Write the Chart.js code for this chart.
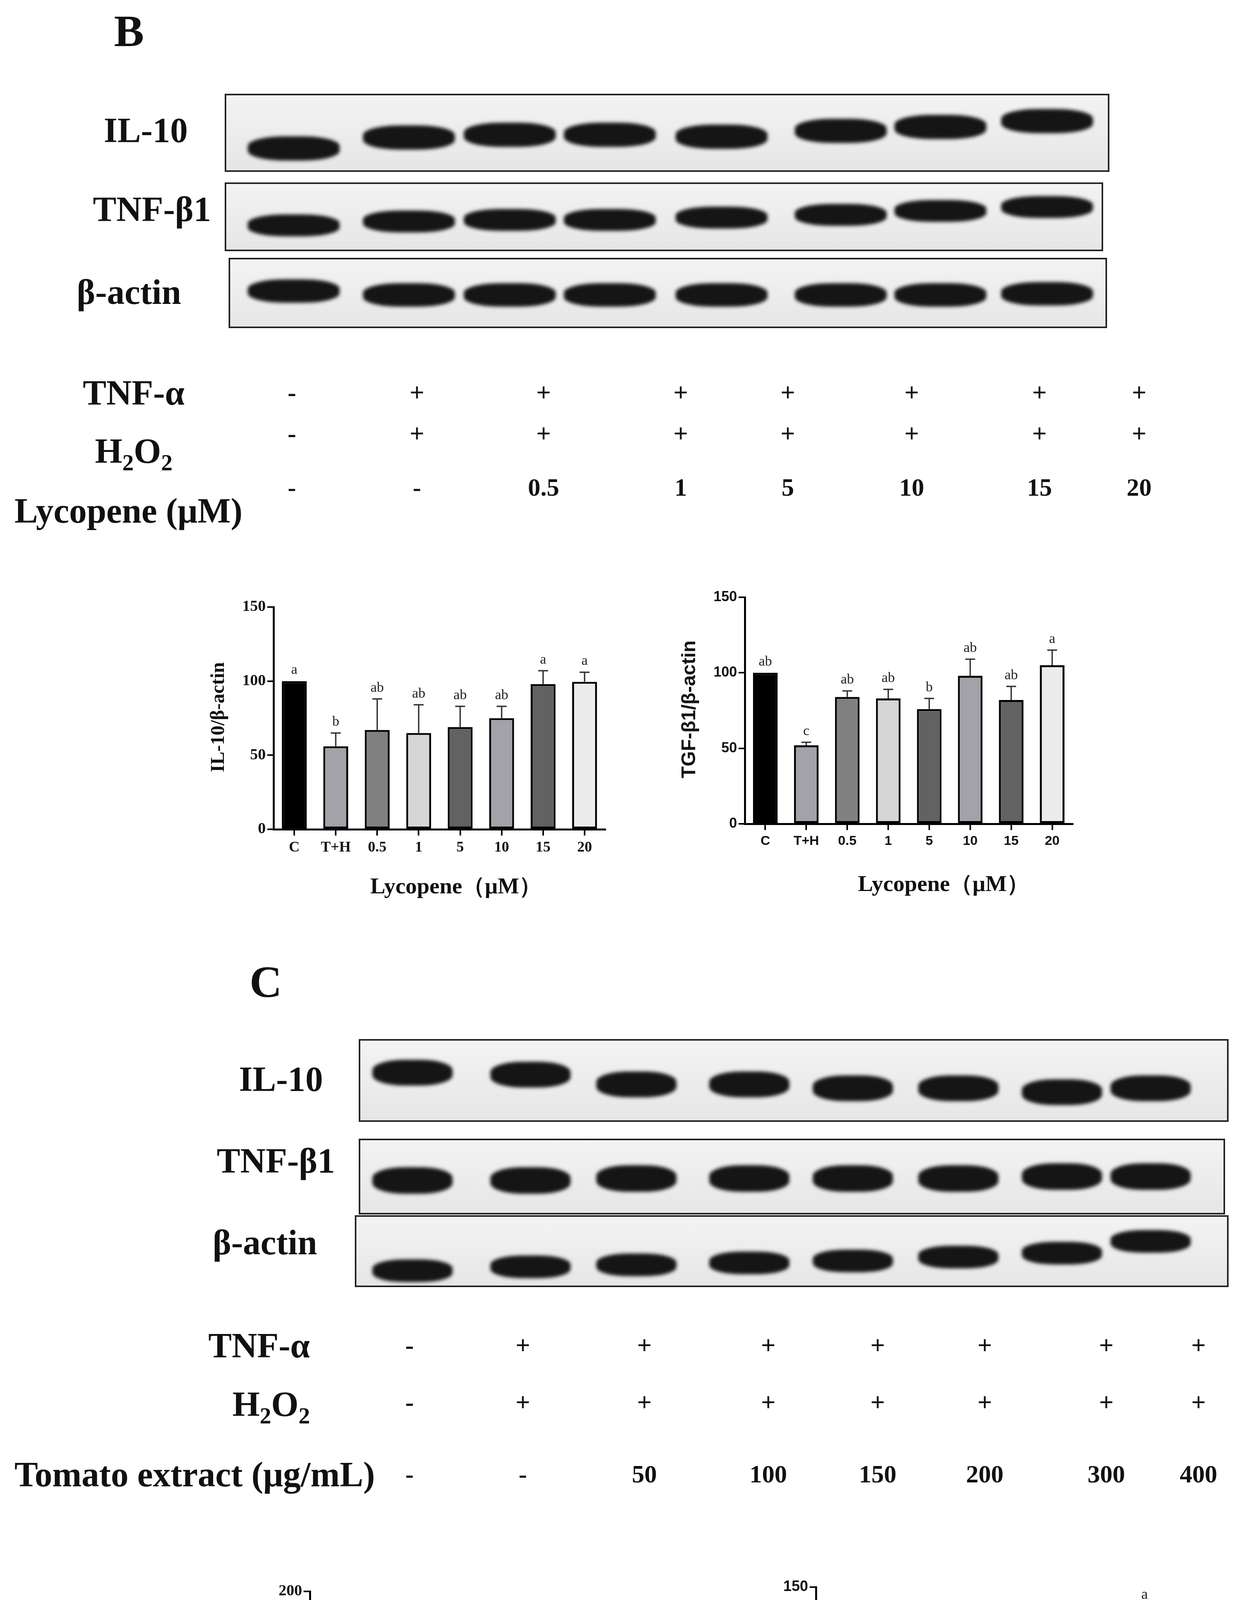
<!DOCTYPE html>
<html><head><meta charset="utf-8">
<script src="https://cdn.jsdelivr.net/npm/chart.js@4.4.0/dist/chart.umd.min.js"></script>
<style>
html,body{margin:0;padding:0;background:#fff;}
body{width:3186px;height:4899px;position:relative;overflow:hidden;font-family:"Liberation Serif","DejaVu Serif",serif;}
.t{position:absolute;white-space:nowrap;font-weight:bold;color:#111;}
.box{position:absolute;border:4px solid #222;background:linear-gradient(#f3f3f3,#e6e6e6);overflow:hidden;}
.band{position:absolute;background:#151515;border-radius:40%;filter:blur(5px);}
.cw{position:absolute;}
</style></head><body>
<script>
// ---------- DATA ----------
const catsB = ['C','T+H','0.5','1','5','10','15','20'];
const catsC = ['C','T+H','50','100','150','200','300','400'];
const il10B = [100,56,67,65,69,75,98,99.5];
const il10BErr = [0,9,21,19,14,8,9,6.5];
const il10BLet = ['a','b','ab','ab','ab','ab','a','a'];
const tgfB = [100,52,84,83,76,98,82,105];
const tgfBErr = [0,2,4,6,7,11,9,10];
const tgfBLet = ['ab','c','ab','ab','b','ab','ab','a'];
const il10C = [100,61,87,95,109,130,127,118];
const il10CErr = [0,4,2,8,13,18,6,16];
const il10CLet = ['bcd','e','de','cd','abcd','a','ab','abc'];
const tgfC = [100,78,89,89,91,101,105,128];
const tgfCErr = [0,2,3,5,0.5,11,3,10];
const tgfCLet = ['b','c','bc','bc','bc','b','b','a'];
const barColors = ['#000000','#a2a2a8','#808080','#d6d6d6','#626262','#a2a2a8','#626262','#ececec'];
const tnfB = ['-','+','+','+','+','+','+','+'];
const h2o2B = ['-','+','+','+','+','+','+','+'];
const lycB = ['-','-','0.5','1','5','10','15','20'];
const tnfC = ['-','+','+','+','+','+','+','+'];
const h2o2C = ['-','+','+','+','+','+','+','+'];
const tomC = ['-','-','50','100','150','200','300','400'];

// ---------- helpers ----------
function T(html,x,y,size,opt={}){
  const d=document.createElement('div');d.className='t';d.innerHTML=html;
  d.style.fontSize=size+'px';d.style.left=x+'px';d.style.top=y+'px';
  let tr = opt.left?'translate(0,-50%)':'translate(-50%,-50%)';
  if(opt.rot) tr+=' rotate(-90deg)';
  d.style.transform=tr;
  if(opt.family) d.style.fontFamily=opt.family;
  if(opt.color) d.style.color=opt.color;
  if(opt.normal) d.style.fontWeight='normal';
  document.body.appendChild(d);return d;
}
function blot(x,y,w,h,lanes,offs,bw,bh){
  const b=document.createElement('div');b.className='box';
  b.style.left=x+'px';b.style.top=y+'px';b.style.width=w+'px';b.style.height=h+'px';
  lanes.forEach((lx,i)=>{
    const d=document.createElement('div');d.className='band';
    d.style.left=(lx-x-bw/2)+'px';d.style.top=(h/2-bh/2+offs[i])+'px';
    d.style.width=bw+'px';d.style.height=bh+'px';b.appendChild(d);
  });
  document.body.appendChild(b);
}
const SUB='<sub style="font-size:0.65em">2</sub>';

// ---------- Section B ----------
T('B',330,80,115);
const lanesB=[747,1042,1300,1556,1842,2147,2402,2675];
blot(575,240,2256,192,lanesB,[40,12,5,5,10,-5,-15,-30],235,62);
blot(575,467,2240,168,lanesB,[22,12,8,8,2,-5,-15,-25],235,56);
blot(585,660,2240,172,lanesB,[-5,5,5,5,5,5,5,2],235,60);
T('IL-10',373,333,90);
T('TNF-β1',389,535,90);
T('β-actin',330,747,90);
const colB=[747,1067,1391,1742,2016,2333,2660,2915];
T('TNF-α',212,1005,90,{left:1});
T('H'+SUB+'O'+SUB,243,1160,90,{left:1});
T('Lycopene (μM)',37,1307,90,{left:1});
colB.forEach((x,i)=>{T(tnfB[i],x,1005,66);T(h2o2B[i],x,1110,66);T(lycB[i],x,1248,64);});

// ---------- Section C ----------
T('C',680,2514,115);
const lanesC=[1051,1353,1624,1913,2178,2448,2713,2940];
blot(918,2660,2218,204,lanesC,[-20,-15,10,10,20,20,30,20],205,66);
blot(918,2915,2209,186,lanesC,[10,10,5,5,5,5,0,0],205,68);
blot(908,3111,2228,176,lanesC,[50,40,35,30,25,15,5,-25],205,58);
T('IL-10',719,2762,90);
T('TNF-β1',706,2971,90);
T('β-actin',678,3180,90);
const colC=[1048,1338,1649,1966,2246,2520,2831,3067];
T('TNF-α',663,3444,90);
T('H'+SUB+'O'+SUB,694,3600,90);
T('Tomato extract (μg/mL)',37,3774,90,{left:1});
colC.forEach((x,i)=>{T(tnfC[i],x,3444,66);T(h2o2C[i],x,3590,66);T(tomC[i],x,3774,64);});

// ---------- charts ----------
const errPlugin={
  id:'err',
  afterDatasetsDraw(chart,args,opts){
    const ctx=chart.ctx, meta=chart.getDatasetMeta(0), ys=chart.scales.y;
    ctx.save();ctx.strokeStyle='#333';ctx.lineWidth=3.5;ctx.fillStyle='#222';
    ctx.font='normal '+opts.letSize+'px "Liberation Serif", serif';
    ctx.textAlign='center';ctx.textBaseline='bottom';
    meta.data.forEach((bar,i)=>{
      const v=opts.vals[i], e=opts.err[i];
      const yTop=ys.getPixelForValue(v+e), yv=ys.getPixelForValue(v);
      if(e>0){
        ctx.beginPath();ctx.moveTo(bar.x,yv);ctx.lineTo(bar.x,yTop);
        ctx.moveTo(bar.x-bar.width*0.2,yTop);ctx.lineTo(bar.x+bar.width*0.2,yTop);ctx.stroke();
      }
      ctx.fillText(opts.lets[i],bar.x,yTop-10);
    });
    ctx.restore();
  }
};
function mkChart(o){
  const c=document.createElement('div');c.className='cw';
  c.style.left=o.l+'px';c.style.top=o.t+'px';c.style.width=o.w+'px';c.style.height=o.h+'px';
  const cv=document.createElement('canvas');c.appendChild(cv);document.body.appendChild(c);
  new Chart(cv,{type:'bar',
    data:{labels:o.cats,datasets:[{data:o.vals,backgroundColor:barColors,borderColor:'#000',borderWidth:5,borderSkipped:false,barPercentage:0.6,categoryPercentage:1}]},
    options:{responsive:true,maintainAspectRatio:false,animation:false,devicePixelRatio:1,
      layout:{padding:{top:o.pt,right:o.pr,left:0,bottom:0}},
      plugins:{legend:{display:false},tooltip:{enabled:false},err:{vals:o.vals,err:o.err,lets:o.lets,letSize:o.letSize}},
      scales:{
        x:{afterFit(s){s.height=o.xh;},
           grid:{drawOnChartArea:false,offset:false,tickLength:16,tickColor:'#000',tickWidth:4,lineWidth:4},
           border:{color:'#000',width:5},
           ticks:{color:'#111',padding:8,font:{family:o.xfam,weight:'bold',size:o.xfs}}},
        y:{min:0,max:o.max,afterFit(s){s.width=o.yw;},
           afterBuildTicks(s){s.ticks=o.yticks.map(v=>({value:v}));},
           grid:{drawOnChartArea:false,tickLength:16,tickColor:'#000',tickWidth:4,lineWidth:4},
           border:{color:'#000',width:5},
           ticks:{color:'#111',padding:4,font:{family:o.yfam,weight:'bold',size:o.yfs}}}
      }},
    plugins:[errPlugin]});
}
const SERIF='"Liberation Serif", serif', SANS='"Liberation Sans", Arial, sans-serif';
mkChart({l:500,t:1480,w:1100,h:740,pt:74,pr:51,yw:200,xh:97,cats:catsB,vals:il10B,err:il10BErr,lets:il10BLet,max:150,yticks:[0,50,100,150],xfam:SERIF,yfam:SERIF,xfs:38,yfs:40,letSize:36});
T('IL-10/β-actin',556,1836,50,{rot:1});
T('Lycopene（μM）',1167,2268,58);
mkChart({l:1650,t:1460,w:1130,h:740,pt:69,pr:35,yw:256,xh:91,cats:catsB,vals:tgfB,err:tgfBErr,lets:tgfBLet,max:150,yticks:[0,50,100,150],xfam:SANS,yfam:SANS,xfs:34,yfs:36,letSize:36});
T('TGF-β1/β-actin',1762,1816,50,{rot:1,family:SANS});
T('Lycopene（μM）',2415,2262,58);
mkChart({l:550,t:4000,w:1150,h:780,pt:74,pr:30,yw:243,xh:100,cats:catsC,vals:il10C,err:il10CErr,lets:il10CLet,max:200,yticks:[0,50,100,150,200],xfam:SERIF,yfam:SERIF,xfs:40,yfs:40,letSize:38});
T('IL-10/β-actin',634,4380,42,{rot:1});
T('Tomato extract　（ μg/mL ）',1264,4840,48);
mkChart({l:1850,t:4000,w:1165,h:780,pt:63,pr:30,yw:238,xh:101,cats:catsC,vals:tgfC,err:tgfCErr,lets:tgfCLet,max:150,yticks:[0,50,100,150],xfam:SANS,yfam:SANS,xfs:38,yfs:38,letSize:38});
T('TGF-β1/β-actin',1938,4370,42,{rot:1});
T('Tomato extract　（ μg/mL ）',2566,4840,48);
</script>
</body></html>
